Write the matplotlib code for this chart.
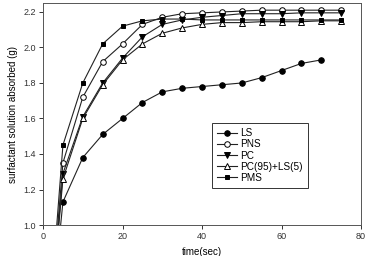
import matplotlib
matplotlib.use("Agg")
import matplotlib.pyplot as plt

plt.rcParams['font.family'] = ['Liberation Sans', 'DejaVu Sans']

# Data
time_main = [0, 5, 10, 15, 20, 25, 30, 35, 40, 45, 50, 55, 60, 65, 70, 75]
time_ls = [0, 5, 10, 15, 20, 25, 30, 35, 40, 45, 50, 55, 60, 65, 70]

ls = [0, 1.13, 1.38, 1.51, 1.60, 1.69, 1.75, 1.77, 1.78, 1.79, 1.80, 1.83, 1.87, 1.91, 1.93]
pns = [0, 1.35, 1.72, 1.92, 2.02, 2.13, 2.17, 2.19, 2.195, 2.20, 2.205, 2.21, 2.21, 2.21, 2.21, 2.21]
pc = [0, 1.29, 1.61, 1.80, 1.94, 2.06, 2.13, 2.155, 2.17, 2.18, 2.19, 2.19, 2.19, 2.195, 2.195, 2.195]
pc_ls = [0, 1.26, 1.60, 1.79, 1.93, 2.02, 2.08, 2.11, 2.13, 2.14, 2.14, 2.145, 2.145, 2.145, 2.15, 2.15]
pms = [0, 1.45, 1.80, 2.02, 2.12, 2.15, 2.16, 2.16, 2.155, 2.155, 2.155, 2.155, 2.155, 2.155, 2.155, 2.155]

fig = plt.figure(figsize=(3.68, 2.56), dpi=100)
ax = fig.add_axes([0.117, 0.121, 0.864, 0.867])

lc = '#222222'
kw = dict(color=lc, lw=0.8, markersize=4, markeredgewidth=0.7, markeredgecolor='black')
ax.plot(time_ls, ls, marker='o', markerfacecolor='black', label='LS', **kw)
ax.plot(time_main, pns, marker='o', markerfacecolor='white', label='PNS', **kw)
ax.plot(time_main, pc, marker='v', markerfacecolor='black', label='PC', **kw)
ax.plot(time_main, pc_ls, marker='^', markerfacecolor='white', label='PC(95)+LS(5)', **kw)
ax.plot(time_main, pms, marker='s', markerfacecolor='black', markersize=3.5,
        color=lc, lw=0.8, markeredgewidth=0.7, markeredgecolor='black', label='PMS')

ax.set_xlim(0, 80)
ax.set_ylim(1.0, 2.25)
ax.set_xticks([0, 20, 40, 60, 80])
ax.set_yticks([1.0, 1.2, 1.4, 1.6, 1.8, 2.0, 2.2])
ax.tick_params(direction='out', length=3, width=0.7, labelsize=6.5, pad=2, colors='#333333')
for s in ax.spines.values():
    s.set_linewidth(0.7)
    s.set_color('#555555')

ax.set_xlabel('time(sec)', fontsize=7, labelpad=4)
ax.set_ylabel('surfactant solution absorbed (g)', fontsize=7, labelpad=4)

leg = ax.legend(loc='lower left', bbox_to_anchor=(0.531, 0.167), borderaxespad=0,
                fontsize=7.2, frameon=True, fancybox=False, edgecolor='black',
                handlelength=2.0, borderpad=0.5, labelspacing=0.12, handletextpad=0.35)
leg.get_frame().set_linewidth(0.7)

fig.savefig('out.png', dpi=100)
